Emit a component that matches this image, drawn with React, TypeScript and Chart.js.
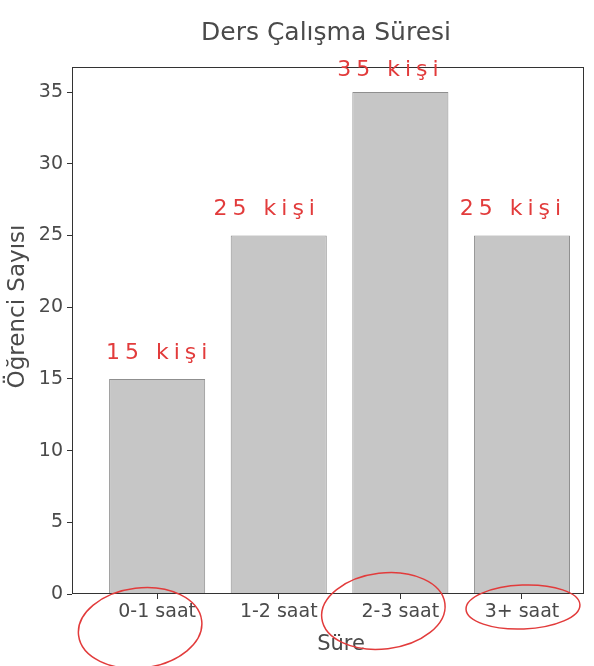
import React, { useEffect, useRef } from "react";
import { Chart, registerables } from "chart.js";

Chart.register(...registerables);

const categories = ["0-1 saat", "1-2 saat", "2-3 saat", "3+ saat"];
const values = [15, 25, 35, 25];
const notes = ["15 kişi", "25 kişi", "35 kişi", "25 kişi"];
const yTicks = [0, 5, 10, 15, 20, 25, 30, 35];
const circled = [0, 2, 3];
const titleText = "Ders Çalışma Süresi";
const xTitle = "Süre";
const yTitle = "Öğrenci Sayısı";

const TEXT = "#4a4a4a";
const RED = "#e23b3b";
const FONT = "'DejaVu Sans', sans-serif";

const frame = {
  id: "frame",
  afterDatasetsDraw(chart: any) {
    const { ctx, chartArea: a } = chart;
    ctx.save();
    ctx.strokeStyle = "#333";
    ctx.lineWidth = 1;
    ctx.strokeRect(a.left + 0.5, a.top + 0.5, a.right - a.left - 1, a.bottom - a.top - 1);
    ctx.restore();
  },
};

const titles = {
  id: "titles",
  afterDraw(chart: any) {
    const { ctx, chartArea: a } = chart;
    ctx.save();
    ctx.fillStyle = TEXT;
    ctx.textAlign = "center";
    ctx.textBaseline = "middle";
    ctx.font = "25px " + FONT;
    ctx.fillText(titleText, (a.left + a.right) / 2 - 2, a.top - 34);
    ctx.font = "21px " + FONT;
    ctx.fillText(xTitle, (a.left + a.right) / 2 + 13, a.bottom + 51);
    ctx.translate(18, (a.top + a.bottom) / 2 - 24);
    ctx.rotate(-Math.PI / 2);
    ctx.font = "23px " + FONT;
    ctx.fillText(yTitle, 0, 0);
    ctx.restore();
  },
};

const annotations = {
  id: "annotations",
  afterDraw(chart: any) {
    const { ctx } = chart;
    const xs = chart.scales.x;
    const ys = chart.scales.y;
    ctx.save();
    ctx.fillStyle = RED;
    ctx.strokeStyle = RED;
    ctx.font = "22px " + FONT;
    (ctx as any).letterSpacing = "5px";
    ctx.textAlign = "center";
    ctx.textBaseline = "middle";
    const dxs = [2, -12, -10, -9];
    values.forEach((v, i) => {
      const x = xs.getPixelForValue(i);
      const y = Math.max(ys.getPixelForValue(v) - 26, 70);
      ctx.fillText(notes[i], x + dxs[i], y);
    });
    ctx.lineWidth = 1.5;
    const shapes: Record<number, [number, number, number, number, number]> = {
      0: [-17, 34, 62, 40, -0.12],
      2: [-17, 17, 62, 38, -0.12],
      3: [1, 13, 57, 22, -0.04],
    };
    circled.forEach((i) => {
      const [dx, dy, rx, ry, rot] = shapes[i];
      const cx = xs.getPixelForValue(i) + dx;
      const cy = xs.top + dy;
      ctx.beginPath();
      ctx.ellipse(cx, cy, rx, ry, rot, 0, Math.PI * 2);
      ctx.stroke();
    });
    ctx.restore();
  },
};

export default function App() {
  const ref = useRef<HTMLCanvasElement | null>(null);
  useEffect(() => {
    if (!ref.current) return;
    const chart = new Chart(ref.current, {
      type: "bar",
      data: {
        datasets: [
          {
            data: values.map((v, i) => ({ x: i, y: v })),
            backgroundColor: "#c6c6c6",
            borderColor: "#8f8f8f",
            borderWidth: 1,
            categoryPercentage: 1,
            barPercentage: 0.79,
          },
        ],
      },
      options: {
        animation: false,
        responsive: true,
        maintainAspectRatio: false,
        layout: { padding: { left: 0, right: 10, top: 67, bottom: 0 } },
        plugins: {
          legend: { display: false },
          tooltip: { enabled: false },
          title: { display: false },
        },
        scales: {
          x: {
            type: "linear",
            offset: false,
            min: -0.7,
            max: 3.51,
            grid: { offset: false, drawOnChartArea: false, drawTicks: true, tickLength: 5, color: "#333" },
            border: { display: false },
            afterBuildTicks: (s: any) => {
              s.ticks = categories.map((_, i) => ({ value: i }));
            },
            afterFit: (s: any) => {
              s.height = 72;
            },
            ticks: {
              autoSkip: false,
              maxRotation: 0,
              padding: 2,
              color: TEXT,
              font: { family: FONT, size: 19 },
              callback: (v: any) => categories[v as number] ?? "",
            },
          },
          y: {
            min: 0,
            max: 36.75,
            grid: { drawOnChartArea: false, drawTicks: true, tickLength: 5, color: "#333" },
            border: { display: false },
            afterBuildTicks: (s: any) => {
              s.ticks = yTicks.map((v) => ({ value: v }));
            },
            afterFit: (s: any) => {
              s.width = 72;
            },
            ticks: {
              padding: 4,
              color: TEXT,
              font: { family: FONT, size: 19 },
            },
          },
        },
      },
      plugins: [frame, titles, annotations],
    } as any);
    return () => chart.destroy();
  }, []);
  return (
    <div style={{ position: "fixed", left: 0, top: 0, width: 594, height: 666, background: "#fff" }}>
      <canvas ref={ref} />
    </div>
  );
}
